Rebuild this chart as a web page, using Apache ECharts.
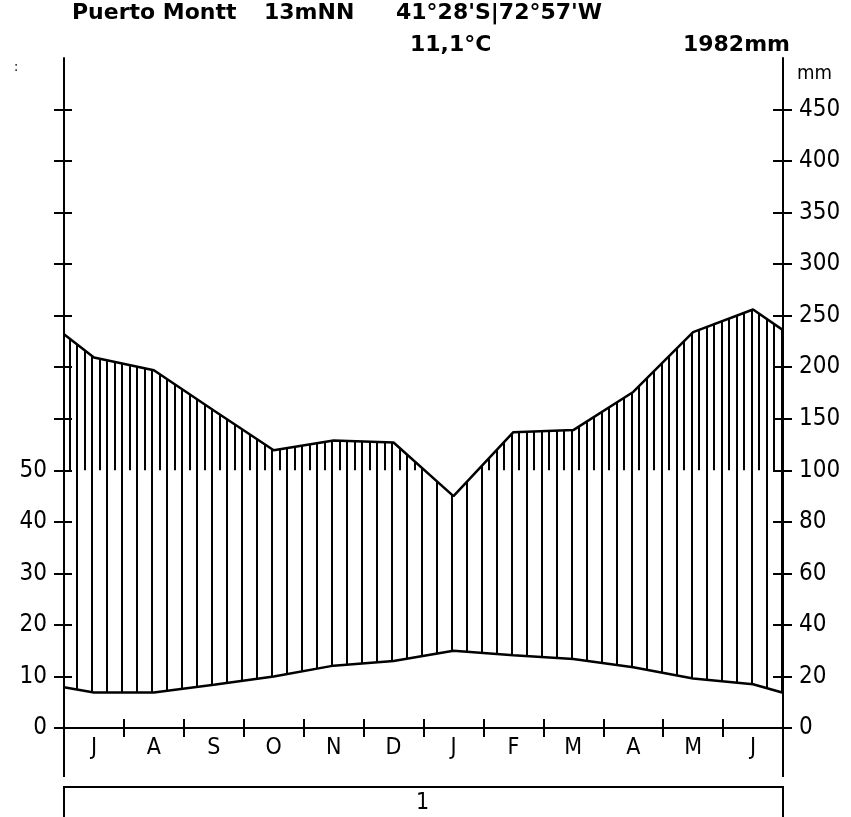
<!DOCTYPE html>
<html>
<head>
<meta charset="utf-8">
<script src="https://cdn.jsdelivr.net/npm/echarts@6/dist/echarts.min.js"></script>
<style>
html,body{margin:0;padding:0;background:#fff}
#chart{width:851px;height:817px}
</style>
</head>
<body>
<div id="chart"></div>
<script>
var months = ['J','A','S','O','N','D','J','F','M','A','M','J'];
// x position in months from start of July (0) to end of June (12)
var monthPos = [0, 0.5, 1.5, 2.5, 3.5, 4.5, 5.5, 6.5, 7.5, 8.5, 9.5, 10.5, 11.5, 12];
var temperature = [7.9, 6.9, 6.9, 8.4, 10.0, 12.1, 13.0, 15.0, 14.1, 13.4, 11.8, 9.6, 8.5, 6.85];
var precipitation = [232, 209.5, 197, 158, 119.4, 129, 127, 90, 137, 139, 176, 234, 256, 236];
var tempTicks = [0, 10, 20, 30, 40, 50];
var precipTicks = [0, 20, 40, 60, 80, 100, 150, 200, 250, 300, 350, 400, 450];
var leftTicks = [0, 10, 20, 30, 40, 50, 60, 70, 80, 90, 100, 110, 120];

var FONT = "'DejaVu Sans Condensed', 'Liberation Sans', sans-serif";
var TFONT = "'DejaVu Sans', 'Liberation Sans', sans-serif";

// 10 degC = 20 mm up to 100 mm, above that 10 degC = 50 mm
function mmToUnit(p) { return p <= 100 ? p / 2 : 50 + (p - 100) / 5; }
function unitToMm(u) { return u <= 50 ? u * 2 : 100 + (u - 50) * 5; }

var G = {left: 64, right: 68, top: 58, bottom: 89};
var W = 851, H = 817;

var tempData = monthPos.map(function (x, i) { return [x, temperature[i]]; });
var precData = monthPos.map(function (x, i) { return [x, mmToUnit(precipitation[i])]; });
var segData = [];
for (var i = 0; i < monthPos.length - 1; i++) {
  segData.push([monthPos[i], temperature[i], mmToUnit(precipitation[i]),
                monthPos[i + 1], temperature[i + 1], mmToUnit(precipitation[i + 1])]);
}

// vertical hatching between the two curves, dense above 100 mm
function renderHatch(params, api) {
  var x0 = api.value(0), t0 = api.value(1), p0 = api.value(2);
  var x1 = api.value(3), t1 = api.value(4), p1 = api.value(5);
  var kids = [];
  for (var k = 0; k < 96; k++) {
    var x = 0.1 + 0.125 * k;
    if (x < x0 || x >= x1) continue;
    var f = (x - x0) / (x1 - x0);
    var t = t0 + (t1 - t0) * f;
    var p = p0 + (p1 - p0) * f;
    var lo;
    if (k % 2 === 1) lo = t;
    else { if (p <= 50) continue; lo = Math.max(t, 50); }
    if (p <= lo) continue;
    var a = api.coord([x, lo]), b = api.coord([x, p]);
    var px = Math.round(a[0]);
    kids.push({type: 'line', shape: {x1: px, y1: a[1], x2: px, y2: b[1]},
               style: {stroke: '#000', lineWidth: 2}});
  }
  return {type: 'group', children: kids};
}

var chart = echarts.init(document.getElementById('chart'));
var axisLine = {show: true, lineStyle: {color: '#000', width: 2}};
var labelStyle = {color: '#000', fontFamily: FONT, fontSize: 24};

var option = {
  animation: false,
  backgroundColor: '#fff',
  grid: {left: G.left, right: G.right, top: G.top, bottom: G.bottom, containLabel: false},
  xAxis: [
    {type: 'value', min: 0, max: 12, show: false},
    {type: 'category', data: months, position: 'bottom', boundaryGap: true,
     axisLine: axisLine,
     axisTick: {show: true, length: 9, lineStyle: {color: '#000', width: 2}},
     axisLabel: {color: '#000', fontFamily: FONT, fontSize: 23, margin: 9},
     splitLine: {show: false}},
    {type: 'category', data: months, position: 'bottom', boundaryGap: true,
     axisLine: {show: false},
     axisTick: {show: true, inside: true, length: 9, lineStyle: {color: '#000', width: 2}},
     axisLabel: {show: false}, splitLine: {show: false}}
  ],
  yAxis: [
    {type: 'value', position: 'left', min: 0, max: 130, interval: 10,
     axisLine: axisLine,
     axisTick: {show: true, length: 10, customValues: leftTicks, lineStyle: {color: '#000', width: 2}},
     axisLabel: Object.assign({margin: 17, customValues: tempTicks}, labelStyle),
     splitLine: {show: false}},
    {type: 'value', position: 'left', min: 0, max: 130, interval: 10,
     axisLine: {show: false},
     axisTick: {show: true, inside: true, length: 8, customValues: leftTicks, lineStyle: {color: '#000', width: 2}},
     axisLabel: {show: false}, splitLine: {show: false}},
    {type: 'value', position: 'right', min: 0, max: 130, interval: 10,
     axisLine: axisLine,
     axisTick: {show: true, length: 9, customValues: precipTicks.map(mmToUnit), lineStyle: {color: '#000', width: 2}},
     axisLabel: Object.assign({margin: 16, customValues: precipTicks.map(mmToUnit),
       formatter: function (v) { return String(Math.round(unitToMm(v))); }}, labelStyle),
     splitLine: {show: false}},
    {type: 'value', position: 'right', min: 0, max: 130, interval: 10,
     axisLine: {show: false},
     axisTick: {show: true, inside: true, length: 10, customValues: precipTicks.map(mmToUnit), lineStyle: {color: '#000', width: 2}},
     axisLabel: {show: false}, splitLine: {show: false}}
  ],
  graphic: [
    {type: 'text', left: 72, top: 2, style: {text: 'Puerto Montt', font: 'bold 22px ' + TFONT, fill: '#000'}},
    {type: 'text', left: 264, top: 2, style: {text: '13mNN', font: 'bold 22px ' + TFONT, fill: '#000'}},
    {type: 'text', left: 396, top: 2, style: {text: "41°28'S|72°57'W", font: 'bold 22px ' + TFONT, fill: '#000'}},
    {type: 'text', left: 410, top: 34, style: {text: '11,1°C', font: 'bold 22px ' + TFONT, fill: '#000'}},
    {type: 'text', right: W - 790, top: 34, style: {text: '1982mm', font: 'bold 22px ' + TFONT, fill: '#000'}},
    {type: 'text', left: 797, top: 64, style: {text: 'mm', font: '20px ' + FONT, fill: '#000'}},
    {type: 'text', left: 14, top: 60, style: {text: ':', font: '14px ' + FONT, fill: '#000'}},
    {type: 'line', shape: {x1: G.left, y1: H - G.bottom, x2: G.left, y2: 777}, style: {stroke: '#000', lineWidth: 2}},
    {type: 'line', shape: {x1: W - G.right, y1: H - G.bottom, x2: W - G.right, y2: 777}, style: {stroke: '#000', lineWidth: 2}},
    {type: 'rect', shape: {x: G.left, y: 787, width: W - G.right - G.left, height: 60}, style: {fill: 'none', stroke: '#000', lineWidth: 2}},
    {type: 'text', left: 416, top: 792, style: {text: '1', font: '23px ' + FONT, fill: '#000'}}
  ],
  series: [
    {type: 'custom', xAxisIndex: 0, yAxisIndex: 0, data: segData, renderItem: renderHatch, silent: true, z: 2},
    {type: 'line', name: 'Temperatur', xAxisIndex: 0, yAxisIndex: 0, data: tempData, symbol: 'none',
     lineStyle: {color: '#000', width: 2.5}, z: 3},
    {type: 'line', name: 'Niederschlag', xAxisIndex: 0, yAxisIndex: 0, data: precData, symbol: 'none',
     lineStyle: {color: '#000', width: 2.5}, z: 3}
  ]
};
chart.setOption(option);
</script>
</body>
</html>
